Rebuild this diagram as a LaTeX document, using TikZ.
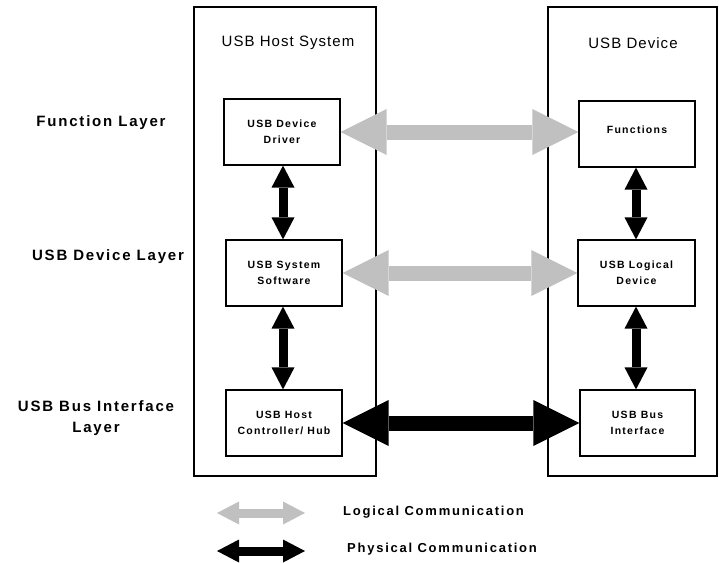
\documentclass[tikz,border=0pt]{standalone}
\usepackage{fontspec}
\setmainfont{Liberation Sans}
\newfontfamily\titlefont[LetterSpace=7]{Liberation Sans}
\newfontfamily\labfont[LetterSpace=12]{Liberation Sans}
\newfontfamily\legfont[LetterSpace=13.5]{Liberation Sans}
\usetikzlibrary{arrows.meta}
\definecolor{logic}{RGB}{192,192,192}
\begin{document}
\begin{tikzpicture}[x=1pt,y=-1pt,
  sysbox/.style={draw, line width=1.2pt},
  inbox/.style={draw, line width=1.2pt, minimum width=116pt, minimum height=66pt, inner sep=0pt, align=center,
     font=\labfont\bfseries\fontsize{10.5}{16}\selectfont},
  layer/.style={align=center, inner sep=0pt, font=\labfont\bfseries\fontsize{15}{21}\selectfont},
  title/.style={inner sep=0pt, font=\titlefont\fontsize{15}{18}\selectfont},
  legend/.style={anchor=west, inner sep=0pt, font=\legfont\bfseries\fontsize{13}{14}\selectfont},
  bigarrow/.style={line width=15pt, {Triangle[length=46pt,width=46pt,line width=0pt]}-{Triangle[length=46pt,width=46pt,line width=0pt]}},
  smallarrow/.style={line width=9pt, {Triangle[length=22pt,width=23pt,line width=0pt]}-{Triangle[length=22pt,width=23pt,line width=0pt]}}
]
\useasboundingbox (0,0) rectangle (719,562);

% system boxes
\draw[sysbox] (194,7) rectangle (376,476);
\draw[sysbox] (548,7) rectangle (717,476);
\node[title] (thost) at (288,43) {USB Host System};
\node[title] (tdev) at (633,43) {USB Device};

% layer labels
\node[layer] (lfun) at (101,123) {Function Layer};
\node[layer] (ldevl) at (108,257) {USB Device Layer};
\node[layer] (lbus) at (96,418) {USB Bus Interface\\Layer};

% inner boxes
\node[inbox] (drv) at (282,132) {USB Device\\Driver};
\node[inbox] (fun) at (637,134) {\raisebox{8pt}{Functions}};
\node[inbox] (sys) at (284,273) {USB System\\Software};
\node[inbox, minimum width=117pt] (ldev) at (636.5,273) {USB Logical\\Device};
\node[inbox] (hc) at (284,423) {USB Host\\Controller/ Hub};
\node[inbox, minimum width=115pt] (bus) at (637.5,423) {USB Bus\\Interface};

% horizontal arrows
\draw[bigarrow, logic] (drv.east) -- (drv.east -| fun.west);
\draw[bigarrow, logic] (sys.east) -- (ldev.west);
\draw[bigarrow, black] (hc.east) -- (bus.west);

% vertical arrows
\draw[smallarrow] (drv.south -| 283,0) -- (sys.north -| 283,0);
\draw[smallarrow] (sys.south -| 283,0) -- (hc.north -| 283,0);
\draw[smallarrow] (fun.south -| 636,0) -- (ldev.north -| 636,0);
\draw[smallarrow] (ldev.south -| 636,0) -- (bus.north -| 636,0);

% legend
\coordinate (la) at (217,513);
\coordinate (lb) at (305,513);
\coordinate (pa) at (217,551);
\coordinate (pb) at (305,551);
\draw[smallarrow, logic] (la) -- (lb);
\draw[smallarrow, black] (pa) -- (pb);
\node[legend] (tlog) at (343,512) {Logical Communication};
\node[legend] (tphy) at (347,549) {Physical Communication};
\end{tikzpicture}
\end{document}
